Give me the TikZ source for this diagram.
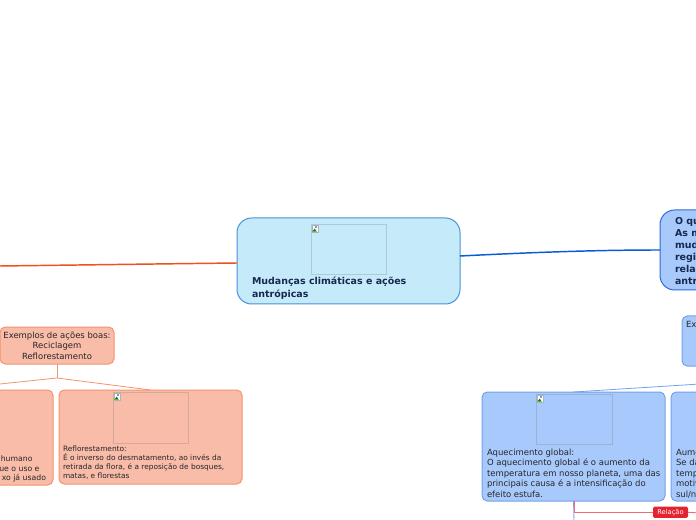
\documentclass[tikz,border=0pt]{standalone}
\usepackage{fontspec}
\setmainfont{DejaVu Sans}
\usetikzlibrary{fit,calc}
\definecolor{cfill}{HTML}{C5EBFB}
\definecolor{cborder}{HTML}{4893D8}
\definecolor{bfill}{HTML}{A7C9FB}
\definecolor{bborder}{HTML}{74A2EC}
\definecolor{bdark}{HTML}{2F6BDA}
\definecolor{ofill}{HTML}{F9BCA9}
\definecolor{oborder}{HTML}{F6936F}
\definecolor{oline}{HTML}{F0501E}
\definecolor{bline}{HTML}{0A5CD6}
\definecolor{navy}{HTML}{16284F}
\definecolor{txt}{HTML}{262626}
\definecolor{relred}{HTML}{E5222F}
\definecolor{relline}{HTML}{F06A78}
\newcommand\fTitle{\fontsize{7.1}{9}\selectfont\bfseries}
\newcommand\fBody{\fontsize{6.35}{8}\selectfont}
\newcommand\fMid{\fontsize{5.8}{7}\selectfont}
\newcommand\fSmall{\fontsize{5.55}{7}\selectfont}
\newcommand\fRel{\fontsize{5}{6}\selectfont}
\newcommand\tline[4]{\node[anchor=base west,#2] (#1) at #3 {#4};}
\tikzset{
  every node/.style={inner sep=0pt, outer sep=0pt},
  box/.style={draw, line width=0.75pt, rounded corners=4pt, inner sep=0pt},
  ph/.style={draw=gray, draw opacity=0.3, line width=0.6pt, inner sep=0pt},
  btree/.style={draw=bborder, line width=0.6pt},
  otree/.style={draw=oborder, line width=0.6pt},
  broken/.pic={
    \draw[gray!60, fill=white, line width=0.3pt] (0,0) rectangle (6,7);
    \fill[green!55!black] (0.4,6.6) -- (2.6,3.6) -- (4.8,6.6) -- cycle;
    \fill[blue!45] (3.4,0.8) rectangle (5.4,2.8);
  }
}
\begin{document}
\begin{tikzpicture}[x=0.75pt,y=-0.75pt]
\useasboundingbox (0,0) rectangle (696,520);
\clip (0,0) rectangle (696,520);
\fill[white] (0,0) rectangle (696,520);

% free ends
\coordinate (lend) at (0,266);
\coordinate (btreeR) at (700,384);
\coordinate (otreeL) at (0,384);
\coordinate (relend) at (700,513);
\coordinate (aqdown) at (574,522);

% central node
\node[box, fill=cfill, draw=cborder, rounded corners=11pt, fit={(237,218) (460,304)}] (center) {};
\node[ph, fit={(311,224) (386,274)}] (cimg) {};
\pic at (312,225) {broken};
\tline{ct1}{font=\fTitle, text=navy}{(252,285)}{Mudanças climáticas e ações}
\tline{ct2}{font=\fTitle, text=navy}{(252,297)}{antrópicas}

% right main node
\node[box, fill=bfill, draw=bdark, rounded corners=11pt, fit={(660,210) (740,290)}] (right) {};
\tline{r1}{font=\fTitle, text=navy}{(675,225)}{O que são}
\tline{r2}{font=\fTitle, text=navy}{(675,237)}{As mudanças}
\tline{r3}{font=\fTitle, text=navy}{(675,249)}{mudanças}
\tline{r4}{font=\fTitle, text=navy}{(675,261)}{regiões}
\tline{r5}{font=\fTitle, text=navy}{(675,273)}{relação}
\tline{r6}{font=\fTitle, text=navy}{(675,285)}{antrópicas}

\draw[bline, line width=1.1pt] ([yshift=3.75pt]center.east) .. controls (540,252) and (600,250) .. (right.west);
\draw[oline, line width=1.1pt] ([yshift=-1.5pt]center.west) .. controls (150,264) and (80,265) .. (lend);

% orange branch
\node[box, fill=ofill, draw=oborder, fit={(0,327) (114,364)}] (exb) {};
\node[anchor=base, font=\fBody, text=txt] (exb1) at (57,339) {Exemplos de ações boas:};
\node[anchor=base, font=\fBody, text=txt] (exb2) at (57,349) {Reciclagem};
\node[anchor=base, font=\fBody, text=txt] (exb3) at (57,359) {Reflorestamento};

\node[box, fill=ofill, draw=oborder, fit={(-20,390) (53,485)}] (recb) {};
\node[anchor=base east, font=\fMid, text=txt] (rc1) at (32.5,461) {humano};
\node[anchor=base east, font=\fMid, text=txt] (rc2) at (39.5,471) {ue o uso e};
\node[anchor=base east, font=\fMid, text=txt] (rc3) at (46,480.5) {xo já usado};

\node[box, fill=ofill, draw=oborder, fit={(59,390) (242,484)}] (refl) {};
\node[ph, fit={(113,392) (188,443)}] (rimg) {};
\pic at (114,393) {broken};
\tline{rf1}{font=\fSmall, text=txt}{(63,451)}{Reflorestamento:}
\tline{rf2}{font=\fSmall, text=txt}{(63,460)}{É o inverso do desmatamento, ao invés da}
\tline{rf3}{font=\fSmall, text=txt}{(63,469)}{retirada da flora, é a reposição de bosques,}
\tline{rf4}{font=\fSmall, text=txt}{(63,478)}{matas, e florestas}

\draw[otree] (exb.south) -- ++(0,14) coordinate (oj);
\draw[otree] (oj) -- (otreeL);
\draw[otree] (oj) -- (refl.north);

% blue branch
\node[box, fill=bfill, draw=bborder, fit={(682,316) (740,366)}] (exr) {};
\tline{ex1}{font=\fBody, text=txt}{(686,328)}{Ex}

\node[box, fill=bfill, draw=bborder, fit={(482,392) (665,501)}] (aq) {};
\node[ph, fit={(536,394) (612,444)}] (aimg) {};
\pic at (537,395) {broken};
\tline{aq1}{font=\fBody, text=txt}{(487,455)}{Aquecimento global:}
\tline{aq2}{font=\fBody, text=txt}{(487,465.5)}{O aquecimento global é o aumento da}
\tline{aq3}{font=\fBody, text=txt}{(487,476)}{temperatura em nosso planeta, uma das}
\tline{aq4}{font=\fBody, text=txt}{(487,486.5)}{principais causa é a intensificação do}
\tline{aq5}{font=\fBody, text=txt}{(487,497)}{efeito estufa.}

\node[box, fill=bfill, draw=bborder, fit={(671,392) (740,501)}] (au) {};
\tline{au1}{font=\fBody, text=txt}{(676,455)}{Aumento}
\tline{au2}{font=\fBody, text=txt}{(676,465.5)}{Se da}
\tline{au3}{font=\fBody, text=txt}{(676,476)}{temperatura}
\tline{au4}{font=\fBody, text=txt}{(676,486.5)}{motivo}
\tline{au5}{font=\fBody, text=txt}{(676,497)}{sul/norte}

\draw[btree] (btreeR) -- (aq.north);
\draw[btree] (aq.south) -- (aqdown);

% relation
\node[fill=relred, rounded corners=1.2pt, minimum width=26.25pt, minimum height=8.5pt, inner sep=0pt, font=\fRel, text=white] (rel) at (670.5,512.3) {Relação};
\draw[relline, line width=0.7pt] ([xshift=1pt]aq.south) |- (rel.west);
\draw[relline, line width=0.7pt] (rel.east) -- (relend);
\end{tikzpicture}
\end{document}
